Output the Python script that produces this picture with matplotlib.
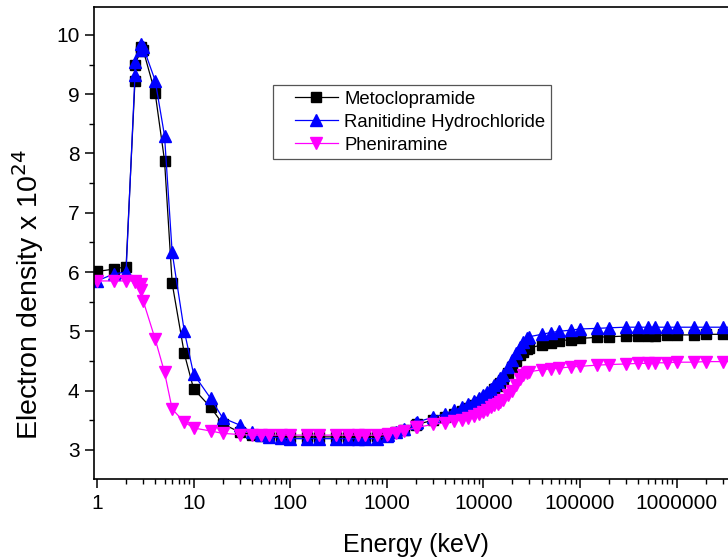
import matplotlib
matplotlib.use("Agg")
import matplotlib.pyplot as plt
from matplotlib.legend_handler import HandlerLine2D
from matplotlib.ticker import FixedLocator, FuncFormatter, LogLocator, MultipleLocator

plt.rcParams["font.family"] = ["Liberation Sans", "DejaVu Sans"]

# photon energy grid (keV), XCOM style with absorption edges repeated
energy = [1, 1.5, 2, 2.472, 2.472, 2.822, 2.822, 3, 4, 5, 6, 8, 10, 15, 20, 30,
          40, 50, 60, 80, 100, 150, 200, 300, 400, 500, 600, 800, 1000, 1022,
          1250, 1500, 2000, 2044, 3000, 4000, 5000, 6000, 7000, 8000, 9000,
          10000, 11000, 12000, 13000, 14000, 15000, 16000, 18000, 20000, 22000,
          24000, 26000, 28000, 30000, 40000, 50000, 60000, 80000, 100000,
          150000, 200000, 300000, 400000, 500000, 600000, 800000, 1000000,
          1500000, 2000000, 3000000, 4000000]

metoclopramide = [6.01, 6.05, 6.09, 9.22, 9.50, 9.72, 9.80, 9.75, 9.02, 7.88,
                  5.81, 4.63, 4.03, 3.72, 3.44, 3.30, 3.26, 3.24, 3.23, 3.23,
                  3.22, 3.22, 3.22, 3.22, 3.22, 3.22, 3.22, 3.23, 3.25, 3.26,
                  3.30, 3.34, 3.42, 3.43, 3.50, 3.56, 3.61, 3.66, 3.71, 3.76,
                  3.81, 3.86, 3.91, 3.96, 4.02, 4.08, 4.13, 4.18, 4.30, 4.40,
                  4.50, 4.60, 4.66, 4.70, 4.72, 4.77, 4.81, 4.84, 4.86, 4.88,
                  4.90, 4.91, 4.92, 4.93, 4.93, 4.93, 4.94, 4.94, 4.94, 4.95,
                  4.95, 4.95]

ranitidine = [5.85, 5.97, 6.00, 9.32, 9.55, 9.75, 9.85, 9.80, 9.23, 8.30,
              6.33, 5.01, 4.28, 3.87, 3.54, 3.42, 3.30, 3.25, 3.22, 3.20,
              3.19, 3.19, 3.19, 3.19, 3.19, 3.19, 3.19, 3.19, 3.23, 3.25,
              3.30, 3.36, 3.46, 3.47, 3.55, 3.61, 3.67, 3.72, 3.77, 3.82,
              3.87, 3.92, 3.98, 4.03, 4.09, 4.15, 4.21, 4.27, 4.40, 4.52,
              4.63, 4.73, 4.82, 4.88, 4.91, 4.95, 4.98, 5.00, 5.02, 5.04,
              5.05, 5.06, 5.07, 5.07, 5.07, 5.07, 5.07, 5.07, 5.07, 5.07,
              5.07, 5.07]

pheniramine = [5.85, 5.85, 5.85, 5.85, 5.84, 5.80, 5.70, 5.52, 4.87, 4.31,
               3.69, 3.47, 3.37, 3.32, 3.28, 3.26, 3.25, 3.25, 3.25, 3.25,
               3.25, 3.25, 3.25, 3.25, 3.25, 3.25, 3.25, 3.25, 3.26, 3.27,
               3.29, 3.32, 3.38, 3.38, 3.43, 3.46, 3.48, 3.51, 3.54, 3.57,
               3.60, 3.64, 3.68, 3.72, 3.75, 3.78, 3.81, 3.84, 3.92, 4.00,
               4.10, 4.20, 4.26, 4.30, 4.32, 4.35, 4.37, 4.38, 4.40, 4.41,
               4.43, 4.44, 4.45, 4.46, 4.46, 4.47, 4.47, 4.48, 4.48, 4.49,
               4.49, 4.49]

W, H = 728, 560
fig = plt.figure(figsize=(W / 100, H / 100), dpi=100)
# axes runs off the right edge like the original figure crop
ax = fig.add_axes([94 / W, 81 / H, (760 - 94) / W, (479 - 7) / H])

ax.plot(energy, metoclopramide, color="black", lw=0.9, marker="s", ms=7.5,
        label="Metoclopramide")
ax.plot(energy, ranitidine, color="#0000ff", lw=0.9, marker="^", ms=9,
        label="Ranitidine Hydrochloride")
ax.plot(energy, pheniramine, color="#ff00ff", lw=0.9, marker="v", ms=9,
        label="Pheniramine")

ax.set_xscale("log")
ax.set_xlim(10 ** (-3 / 96.6), 10 ** ((760 - 97) / 96.6))
ax.set_ylim(2.51, 10.47)

ax.xaxis.set_major_locator(FixedLocator([1, 10, 100, 1000, 10000, 100000, 1000000]))
ax.xaxis.set_major_formatter(FuncFormatter(lambda v, p: f"{int(round(v))}"))
ax.xaxis.set_minor_locator(LogLocator(base=10, subs=range(2, 10), numticks=20))
ax.yaxis.set_major_locator(FixedLocator([3, 4, 5, 6, 7, 8, 9, 10]))
ax.yaxis.set_minor_locator(MultipleLocator(0.5))

ax.tick_params(which="major", direction="out", length=6.5, width=1.1,
               labelsize=15, pad=4)
ax.tick_params(which="minor", direction="out", length=3.5, width=1.0)
for s in ax.spines.values():
    s.set_linewidth(1.2)

ax.set_xlabel("Energy (keV)", fontsize=18)
ax.xaxis.set_label_coords((416 - 94) / 666, -(557 - 479) / 472)
ax.xaxis.label.set_va("bottom")
ax.set_ylabel("Electron density x 10$^{24}$", fontsize=20.5)
ax.yaxis.set_label_coords(-(94 - 46) / 666, (479 - 294) / 472)

hmap = {ln: HandlerLine2D(xpad=0.9) for ln in ax.get_lines()}
leg = ax.legend(loc="upper left", bbox_to_anchor=(273 / W, 1 - 85 / H),
                bbox_transform=fig.transFigure, fontsize=13.3, frameon=True,
                fancybox=False, edgecolor="#555555", framealpha=1,
                handlelength=3.2, labelspacing=0.33, borderpad=0.3,
                handletextpad=0.35, borderaxespad=0, handler_map=hmap)
leg.get_frame().set_linewidth(0.9)

fig.savefig("out.png", dpi=100)
